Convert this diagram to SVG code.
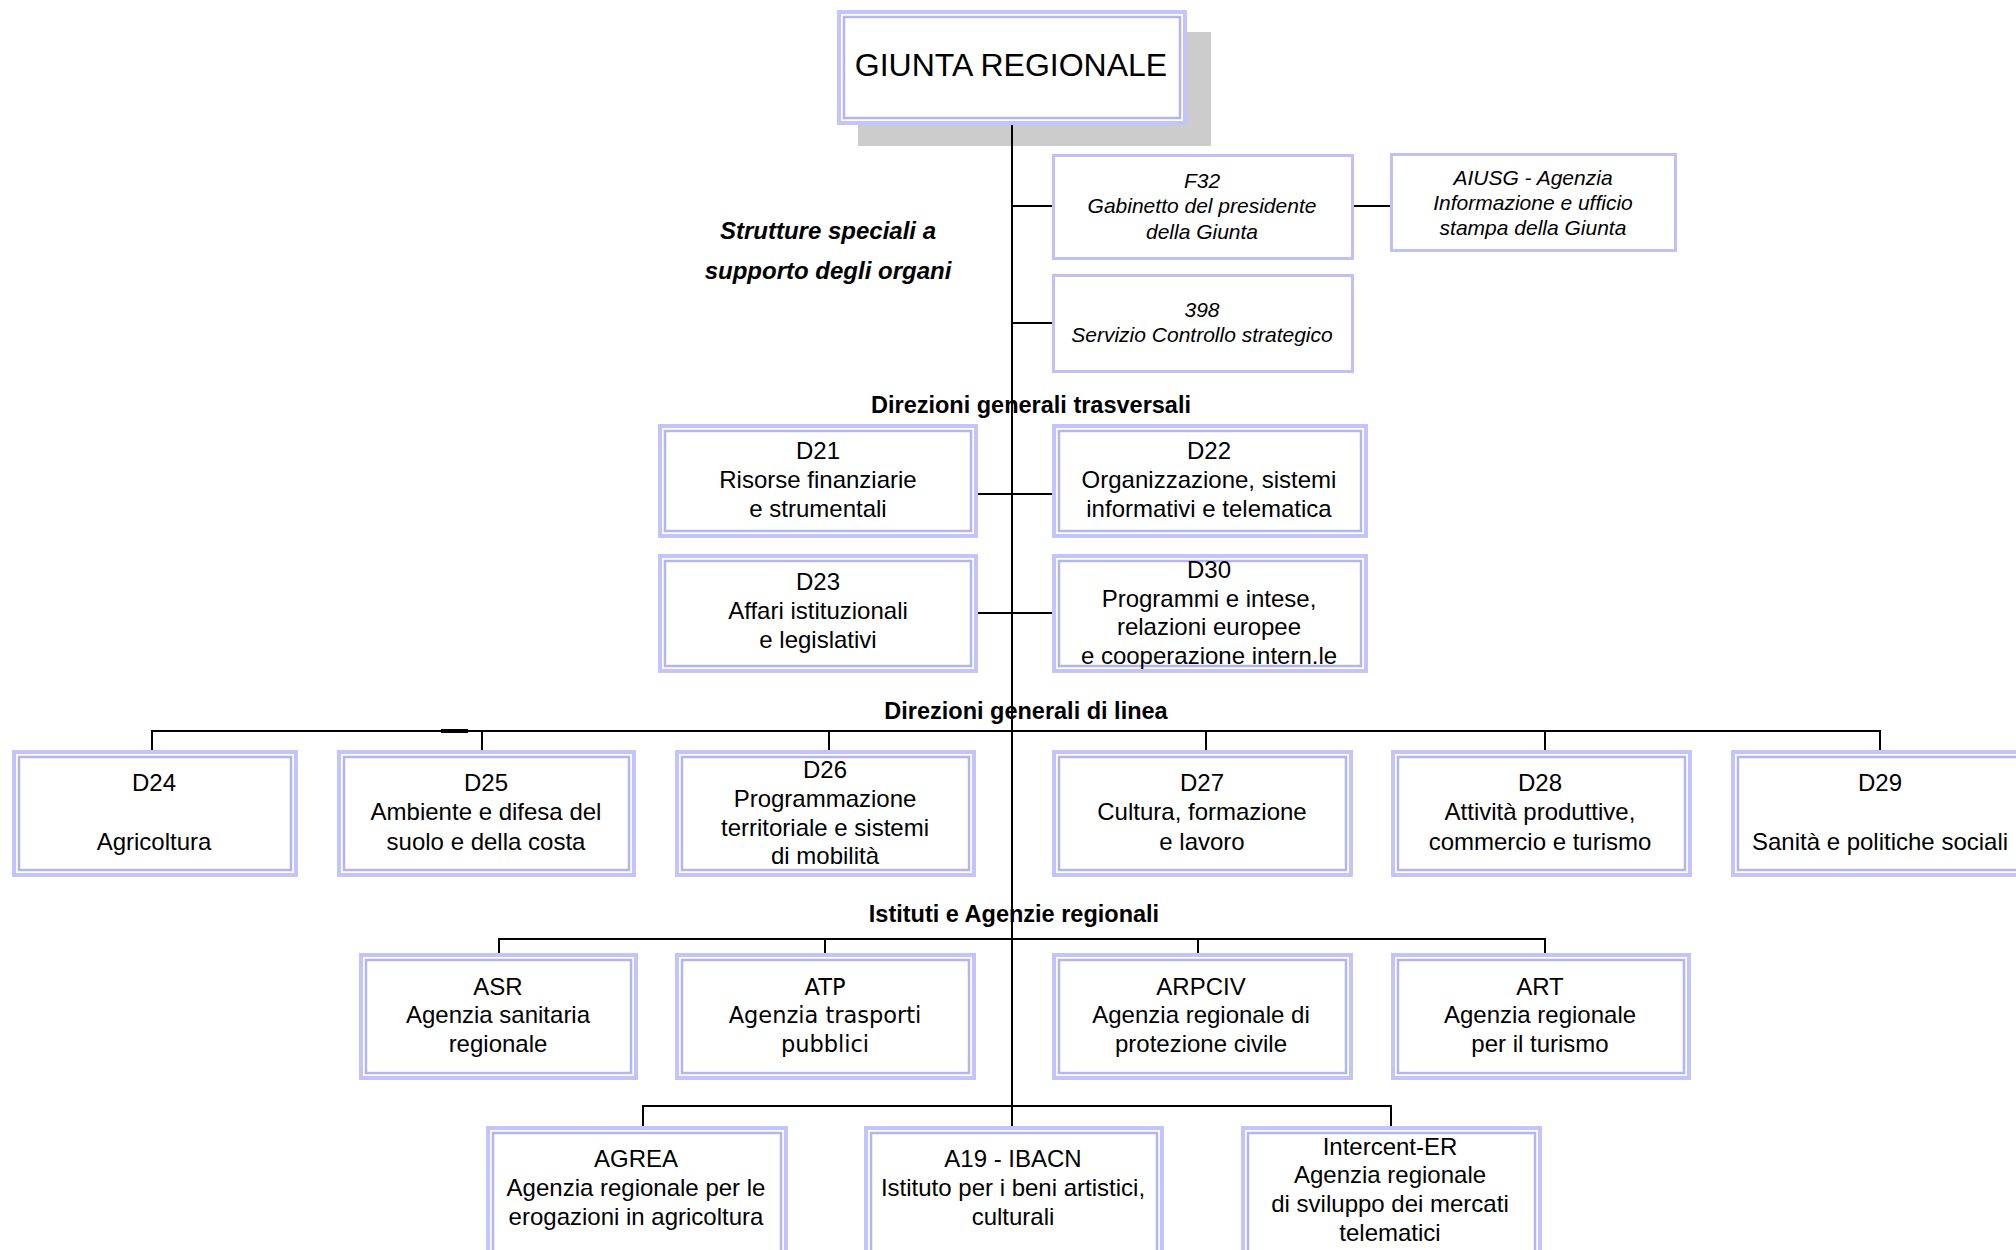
<svg xmlns="http://www.w3.org/2000/svg" width="2016" height="1250" viewBox="0 0 2016 1250">
<style>
.o{fill:#fff;stroke:#c4c4fc;stroke-width:4}
.i{fill:none;stroke:#b4b4f0;stroke-width:2.5}
.s{fill:#fff;stroke:#c0c0f8;stroke-width:3}
.t{font-family:"Liberation Sans",Arial,sans-serif;font-size:24px;fill:#000;text-anchor:middle}
.it{font-family:"Liberation Sans",Arial,sans-serif;font-size:21px;font-style:italic;fill:#000;text-anchor:middle}
.h{font-family:"Liberation Sans",Arial,sans-serif;font-size:23.5px;font-weight:bold;fill:#000;text-anchor:middle}
.hi{font-family:"Liberation Sans",Arial,sans-serif;font-size:24px;font-weight:bold;font-style:italic;fill:#000;text-anchor:middle}
.v{font-family:"DejaVu Sans",Verdana,sans-serif;font-size:22.5px;fill:#000;text-anchor:middle}
.c{fill:none;stroke:#000;stroke-width:2}
</style>
<rect x="858" y="32" width="353" height="114" fill="#cccccc"/>
<g id="labels">
<text class="hi" x="828" y="239">Strutture speciali a</text>
<text class="hi" x="828" y="279">supporto degli organi</text>
<text class="h" x="1031" y="413">Direzioni generali trasversali</text>
<text class="h" x="1026" y="719">Direzioni generali di linea</text>
<text class="h" x="1014" y="922">Istituti e Agenzie regionali</text>
</g>
<g id="connectors">
<path class="c" d="M1012 123V1126"/>
<path class="c" d="M1012 206H1052M1354 206H1390"/>
<path class="c" d="M1012 323H1052"/>
<path class="c" d="M978 494H1052M978 613H1052"/>
<path class="c" d="M152 750V731H1880V750M482 731V750M829 731V750M1206 731V750M1545 731V750"/>
<path d="M441 731H468" stroke="#000" stroke-width="4"/>
<path class="c" d="M499 953V939H1545V953M825 939V953M1198 939V953"/>
<path class="c" d="M643 1126V1106H1391V1126"/>
</g>
<g id="giunta">
<rect class="o" x="839" y="12" width="346" height="111"/>
<rect class="i" x="844" y="17" width="336" height="101"/>
<text class="t" style="font-size:32px" x="1011" y="76">GIUNTA REGIONALE</text>
</g>
<g id="f32">
<rect class="s" x="1053.5" y="155.5" width="299" height="103"/>
<text class="it" x="1202" y="188">F32</text>
<text class="it" x="1202" y="213">Gabinetto del presidente</text>
<text class="it" x="1202" y="239">della Giunta</text>
</g>
<g id="aiusg">
<rect class="s" x="1391.5" y="154.5" width="284" height="96"/>
<text class="it" x="1533" y="185">AIUSG - Agenzia</text>
<text class="it" x="1533" y="210">Informazione e ufficio</text>
<text class="it" x="1533" y="235">stampa della Giunta</text>
</g>
<g id="s398">
<rect class="s" x="1053.5" y="275.5" width="299" height="96"/>
<text class="it" x="1202" y="317">398</text>
<text class="it" x="1202" y="342">Servizio Controllo strategico</text>
</g>
<g id="d21">
<rect class="o" x="660" y="426" width="316" height="110"/>
<rect class="i" x="665" y="431" width="306" height="100"/>
<text class="t" x="818" y="459">D21</text>
<text class="t" x="818" y="488">Risorse finanziarie</text>
<text class="t" x="818" y="517">e strumentali</text>
</g>
<g id="d22">
<rect class="o" x="1054" y="426" width="312" height="110"/>
<rect class="i" x="1059" y="431" width="302" height="100"/>
<text class="t" x="1209" y="459">D22</text>
<text class="t" x="1209" y="488">Organizzazione, sistemi</text>
<text class="t" x="1209" y="517">informativi e telematica</text>
</g>
<g id="d23">
<rect class="o" x="660" y="556" width="316" height="115"/>
<rect class="i" x="665" y="561" width="306" height="105"/>
<text class="t" x="818" y="590">D23</text>
<text class="t" x="818" y="619">Affari istituzionali</text>
<text class="t" x="818" y="648">e legislativi</text>
</g>
<g id="d30">
<rect class="o" x="1054" y="556" width="312" height="115"/>
<rect class="i" x="1059" y="561" width="302" height="105"/>
<text class="t" x="1209" y="578">D30</text>
<text class="t" x="1209" y="607">Programmi e intese,</text>
<text class="t" x="1209" y="635">relazioni europee</text>
<text class="t" x="1209" y="664">e cooperazione intern.le</text>
</g>
<g id="d24">
<rect class="o" x="14" y="752" width="282" height="123"/>
<rect class="i" x="19" y="757" width="272" height="113"/>
<text class="t" x="154" y="791">D24</text>
<text class="t" x="154" y="850">Agricoltura</text>
</g>
<g id="d25">
<rect class="o" x="339" y="752" width="295" height="123"/>
<rect class="i" x="344" y="757" width="285" height="113"/>
<text class="t" x="486" y="791">D25</text>
<text class="t" x="486" y="820">Ambiente e difesa del</text>
<text class="t" x="486" y="850">suolo e della costa</text>
</g>
<g id="d26">
<rect class="o" x="677" y="752" width="297" height="123"/>
<rect class="i" x="682" y="757" width="287" height="113"/>
<text class="t" x="825" y="778">D26</text>
<text class="t" x="825" y="807">Programmazione</text>
<text class="t" x="825" y="836">territoriale e sistemi</text>
<text class="t" x="825" y="864">di mobilità</text>
</g>
<g id="d27">
<rect class="o" x="1054" y="752" width="297" height="123"/>
<rect class="i" x="1059" y="757" width="287" height="113"/>
<text class="t" x="1202" y="791">D27</text>
<text class="t" x="1202" y="820">Cultura, formazione</text>
<text class="t" x="1202" y="850">e lavoro</text>
</g>
<g id="d28">
<rect class="o" x="1393" y="752" width="297" height="123"/>
<rect class="i" x="1398" y="757" width="287" height="113"/>
<text class="t" x="1540" y="791">D28</text>
<text class="t" x="1540" y="820">Attività produttive,</text>
<text class="t" x="1540" y="850">commercio e turismo</text>
</g>
<g id="d29">
<rect class="o" x="1733" y="752" width="300" height="123"/>
<rect class="i" x="1738" y="757" width="290" height="113"/>
<text class="t" x="1880" y="791">D29</text>
<text class="t" x="1880" y="850">Sanità e politiche sociali</text>
</g>
<g id="asr">
<rect class="o" x="361" y="955" width="275" height="123"/>
<rect class="i" x="366" y="960" width="265" height="113"/>
<text class="t" x="498" y="995">ASR</text>
<text class="t" x="498" y="1023">Agenzia sanitaria</text>
<text class="t" x="498" y="1052">regionale</text>
</g>
<g id="atp">
<rect class="o" x="677" y="955" width="297" height="123"/>
<rect class="i" x="682" y="960" width="287" height="113"/>
<text class="v" x="825" y="995">ATP</text>
<text class="v" x="825" y="1023">Agenzia trasporti</text>
<text class="v" x="825" y="1052">pubblici</text>
</g>
<g id="arpciv">
<rect class="o" x="1054" y="955" width="297" height="123"/>
<rect class="i" x="1059" y="960" width="287" height="113"/>
<text class="t" x="1201" y="995">ARPCIV</text>
<text class="t" x="1201" y="1023">Agenzia regionale di</text>
<text class="t" x="1201" y="1052">protezione civile</text>
</g>
<g id="art">
<rect class="o" x="1393" y="955" width="296" height="123"/>
<rect class="i" x="1398" y="960" width="286" height="113"/>
<text class="t" x="1540" y="995">ART</text>
<text class="t" x="1540" y="1023">Agenzia regionale</text>
<text class="t" x="1540" y="1052">per il turismo</text>
</g>
<g id="agrea">
<rect class="o" x="488" y="1128" width="298" height="140"/>
<rect class="i" x="493" y="1133" width="288" height="130"/>
<text class="t" x="636" y="1167">AGREA</text>
<text class="t" x="636" y="1196">Agenzia regionale per le</text>
<text class="t" x="636" y="1225">erogazioni in agricoltura</text>
</g>
<g id="a19">
<rect class="o" x="866" y="1128" width="296" height="140"/>
<rect class="i" x="871" y="1133" width="286" height="130"/>
<text class="t" x="1013" y="1167">A19 - IBACN</text>
<text class="t" x="1013" y="1196">Istituto per i beni artistici,</text>
<text class="t" x="1013" y="1225">culturali</text>
</g>
<g id="intercent">
<rect class="o" x="1243" y="1128" width="297" height="140"/>
<rect class="i" x="1248" y="1133" width="287" height="130"/>
<text class="t" x="1390" y="1155">Intercent-ER</text>
<text class="t" x="1390" y="1183">Agenzia regionale</text>
<text class="t" x="1390" y="1212">di sviluppo dei mercati</text>
<text class="t" x="1390" y="1241">telematici</text>
</g>
</svg>
